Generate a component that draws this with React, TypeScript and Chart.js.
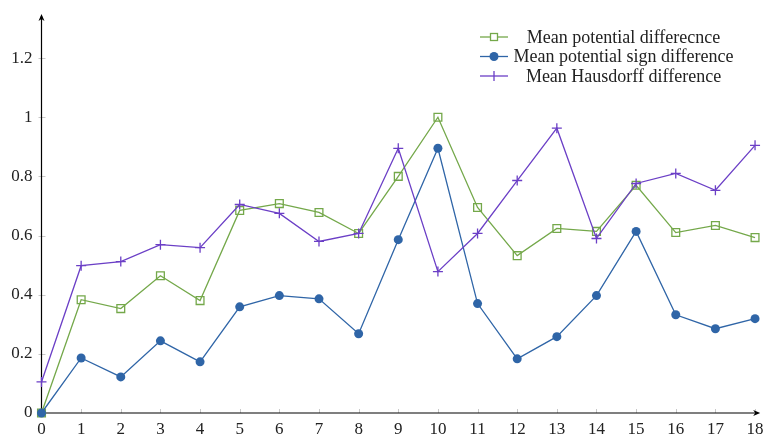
import React, { useEffect, useRef } from 'react';
import { Chart, registerables } from 'chart.js';

Chart.register(...registerables);

const xValues = [0, 1, 2, 3, 4, 5, 6, 7, 8, 9, 10, 11, 12, 13, 14, 15, 16, 17, 18];
const potentialDiff = [0.0, 0.383, 0.353, 0.464, 0.38, 0.685, 0.708, 0.678, 0.607, 0.8, 1.0, 0.695, 0.532, 0.624, 0.614, 0.77, 0.61, 0.634, 0.593];
const signDiff = [0.0, 0.186, 0.122, 0.244, 0.173, 0.359, 0.397, 0.386, 0.268, 0.586, 0.895, 0.37, 0.183, 0.258, 0.397, 0.614, 0.332, 0.285, 0.319];
const hausdorffDiff = [0.105, 0.498, 0.512, 0.569, 0.559, 0.705, 0.675, 0.58, 0.607, 0.895, 0.478, 0.607, 0.786, 0.963, 0.59, 0.776, 0.81, 0.753, 0.905];
const xTicks = [0, 1, 2, 3, 4, 5, 6, 7, 8, 9, 10, 11, 12, 13, 14, 15, 16, 17, 18];
const yTicks = [0, 0.2, 0.4, 0.6, 0.8, 1, 1.2];
const yTickLabels = ['0', '0.2', '0.4', '0.6', '0.8', '1', '1.2'];
const seriesLabels = ['Mean potential differecnce', 'Mean potential sign difference', 'Mean Hausdorff difference'];

const GREEN = '#74a84a';
const BLUE = '#2f65a7';
const PURPLE = '#6b3fc6';
const FONT = '"Liberation Serif", "Times New Roman", serif';

const axesPlugin = {
  id: 'axesPlugin',
  beforeDatasetsDraw(chart: any) {
    const { ctx, chartArea } = chart;
    const xs = chart.scales.x;
    const ys = chart.scales.y;
    const x0 = xs.getPixelForValue(0);
    const y0 = ys.getPixelForValue(0);
    ctx.save();
    ctx.strokeStyle = '#c8c8c8';
    ctx.lineWidth = 1;
    xTicks.forEach((v) => {
      const px = Math.round(xs.getPixelForValue(v)) + 0.5;
      ctx.beginPath();
      ctx.moveTo(px, y0 - 4);
      ctx.lineTo(px, y0);
      ctx.stroke();
    });
    yTicks.forEach((v) => {
      const py = Math.round(ys.getPixelForValue(v)) + 0.5;
      ctx.beginPath();
      ctx.moveTo(x0 - 3, py);
      ctx.lineTo(x0 + 4, py);
      ctx.stroke();
    });
    ctx.strokeStyle = '#000';
    ctx.fillStyle = '#000';
    ctx.lineWidth = 1.2;
    ctx.beginPath();
    ctx.moveTo(x0, y0);
    ctx.lineTo(x0, chartArea.top + 2);
    ctx.stroke();
    ctx.beginPath();
    ctx.moveTo(x0, y0);
    ctx.lineTo(chartArea.right - 2, y0);
    ctx.stroke();
    ctx.beginPath();
    ctx.moveTo(x0, chartArea.top);
    ctx.lineTo(x0 - 3, chartArea.top + 7);
    ctx.lineTo(x0, chartArea.top + 5);
    ctx.lineTo(x0 + 3, chartArea.top + 7);
    ctx.closePath();
    ctx.fill();
    ctx.beginPath();
    ctx.moveTo(chartArea.right, y0);
    ctx.lineTo(chartArea.right - 7, y0 - 3);
    ctx.lineTo(chartArea.right - 5, y0);
    ctx.lineTo(chartArea.right - 7, y0 + 3);
    ctx.closePath();
    ctx.fill();
    ctx.restore();
  },
};

const legendPlugin = {
  id: 'customLegend',
  afterDraw(chart: any) {
    const { ctx } = chart;
    const rowsY = [37, 56.5, 76];
    const lineX1 = 480;
    const lineX2 = 508;
    const textCenter = 623.5;
    ctx.save();
    chart.data.datasets.forEach((ds: any, i: number) => {
      const y = rowsY[i];
      ctx.strokeStyle = ds.borderColor;
      ctx.lineWidth = 1.3;
      ctx.beginPath();
      ctx.moveTo(lineX1, y);
      ctx.lineTo(lineX2, y);
      ctx.stroke();
      const mx = (lineX1 + lineX2) / 2;
      if (ds.pointStyle === 'rect') {
        ctx.fillStyle = '#fff';
        ctx.fillRect(mx - 3.5, y - 3.5, 7, 7);
        ctx.strokeRect(mx - 3.5, y - 3.5, 7, 7);
      } else if (ds.pointStyle === 'circle') {
        ctx.fillStyle = ds.borderColor;
        ctx.beginPath();
        ctx.arc(mx, y, 4.5, 0, Math.PI * 2);
        ctx.fill();
      } else {
        ctx.beginPath();
        ctx.moveTo(mx, y - 5);
        ctx.lineTo(mx, y + 5);
        ctx.stroke();
      }
      ctx.fillStyle = '#222';
      ctx.font = `18px ${FONT}`;
      ctx.textAlign = 'center';
      ctx.textBaseline = 'middle';
      ctx.fillText(ds.label, textCenter, y + 1);
    });
    ctx.restore();
  },
};

export default function App() {
  const ref = useRef<HTMLCanvasElement | null>(null);

  useEffect(() => {
    document.body.style.margin = '0';
    const canvas = ref.current;
    if (!canvas) return;
    const mk = (arr: number[]) => xValues.map((x, i) => ({ x, y: arr[i] }));
    const chart = new Chart(canvas, {
      type: 'line',
      data: {
        datasets: [
          {
            label: seriesLabels[0],
            data: mk(potentialDiff),
            borderColor: GREEN,
            backgroundColor: 'rgba(255,255,255,0)',
            pointStyle: 'rect',
            pointRadius: 5.5,
            pointBorderWidth: 1.3,
            borderWidth: 1.3,
            clip: false,
            order: 3,
          },
          {
            label: seriesLabels[1],
            data: mk(signDiff),
            borderColor: BLUE,
            backgroundColor: BLUE,
            pointStyle: 'circle',
            pointRadius: 4.5,
            pointBorderWidth: 0,
            borderWidth: 1.3,
            clip: false,
            order: 2,
          },
          {
            label: seriesLabels[2],
            data: mk(hausdorffDiff),
            borderColor: PURPLE,
            backgroundColor: PURPLE,
            pointStyle: 'cross',
            pointRadius: 5,
            pointBorderWidth: 1.3,
            borderWidth: 1.3,
            clip: false,
            order: 1,
          },
        ],
      },
      options: {
        animation: false,
        responsive: false,
        devicePixelRatio: 1,
        layout: { padding: { top: 14, right: 4, left: 0, bottom: 0 } },
        plugins: { legend: { display: false }, tooltip: { enabled: false } },
        elements: { line: { tension: 0, fill: false } },
        scales: {
          x: {
            type: 'linear',
            min: 0,
            max: 18.13,
            grid: { display: false, drawTicks: false },
            border: { display: false },
            afterBuildTicks: (scale: any) => {
              scale.ticks = xTicks.map((v) => ({ value: v }));
            },
            afterFit: (scale: any) => {
              scale.height = 22;
              scale.paddingLeft = 0;
              scale.paddingRight = 0;
            },
            ticks: {
              color: '#222',
              padding: 6,
              maxRotation: 0,
              autoSkip: false,
              font: { family: FONT, size: 17 },
              callback: (v: any) => String(v),
            },
          },
          y: {
            type: 'linear',
            min: 0,
            max: 1.349,
            grid: { display: false, drawTicks: false },
            border: { display: false },
            afterBuildTicks: (scale: any) => {
              scale.ticks = yTicks.map((v) => ({ value: v }));
            },
            afterFit: (scale: any) => {
              scale.width = 41.5;
              scale.paddingTop = 0;
              scale.paddingBottom = 0;
            },
            ticks: {
              color: '#222',
              padding: 9,
              autoSkip: false,
              font: { family: FONT, size: 17 },
              callback: (v: any) => {
                const idx = yTicks.indexOf(v);
                return idx >= 0 ? yTickLabels[idx] : '';
              },
            },
          },
        },
      },
      plugins: [axesPlugin, legendPlugin],
    });
    return () => chart.destroy();
  }, []);

  return (
    <div style={{ width: 767, height: 435, position: 'relative', background: '#fff' }}>
      <canvas ref={ref} width={767} height={435} style={{ display: 'block', width: 767, height: 435 }} />
    </div>
  );
}
